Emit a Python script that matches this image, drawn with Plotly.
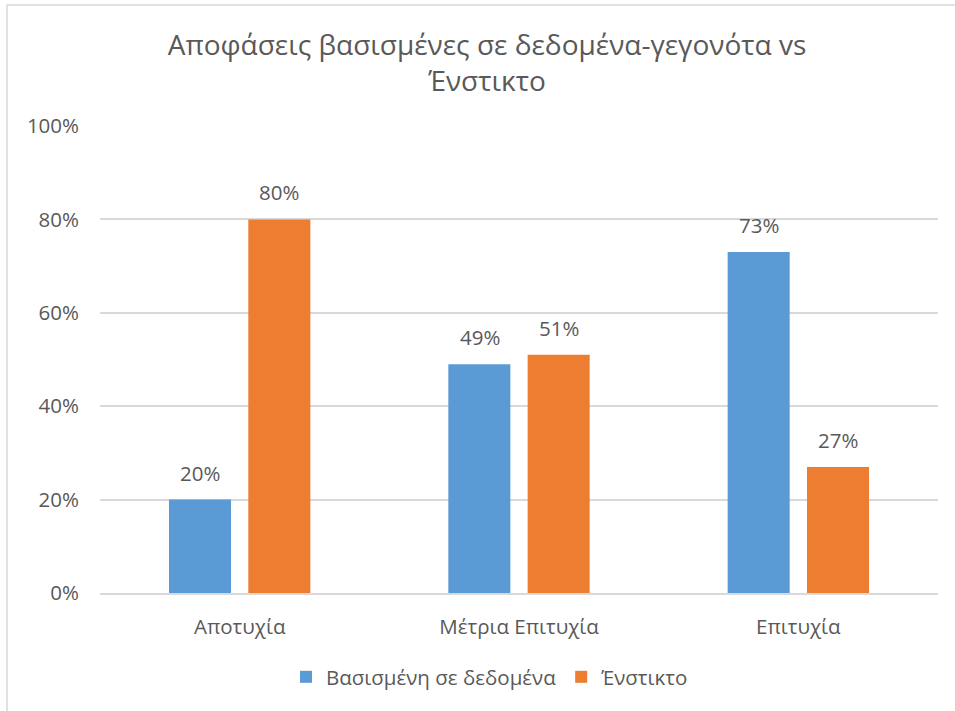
import plotly.graph_objects as go

categories = ["Αποτυχία", "Μέτρια Επιτυχία", "Επιτυχία"]
series_names = ["Βασισμένη σε δεδομένα", "Ένστικτο"]
data_based = [0.20, 0.49, 0.73]
instinct = [0.80, 0.51, 0.27]
colors = ["#5B9BD5", "#ED7D31"]
title_text = "Αποφάσεις βασισμένες σε δεδομένα-γεγονότα vs<br>Ένστικτο"

FONT = "Open Sans"
GREY = "#595959"

W, H = 955, 711
L, R, T, B = 100, 17, 126, 118
pw, ph = W - L - R, H - T - B

fig = go.Figure()
for name, vals, col in zip(series_names, [data_based, instinct], colors):
    fig.add_trace(go.Bar(x=categories, y=vals, name=name, marker_color=col,
                         marker_line_width=0, hoverinfo="skip"))

annos = []
for i, vals in enumerate([data_based, instinct]):
    shift = -39.5 if i == 0 else 39.5
    for c, v in zip(categories, vals):
        annos.append(dict(x=c, y=v, xshift=shift, yshift=27, yanchor="middle",
                          text=f"{round(v*100)}%", showarrow=False,
                          font=dict(family=FONT, size=20.5, color=GREY)))

def px_x(x):
    return (x - L) / pw

def px_y(y):
    return (H - B - y) / ph

fig.update_layout(
    width=W, height=H,
    margin=dict(l=L, r=R, t=T, b=B),
    paper_bgcolor="white", plot_bgcolor="white",
    font=dict(family=FONT, color=GREY, size=20),
    title=dict(text=title_text, x=487 / W, xref="container", xanchor="center",
               y=1 - 55 / H, yref="container", yanchor="middle",
               font=dict(family=FONT, size=28, color=GREY)),
    barmode="group", bargap=0.432, bargroupgap=0.218,
    showlegend=True,
    legend=dict(orientation="h", x=px_x(490), xanchor="center",
                y=px_y(677), yanchor="middle",
                font=dict(family=FONT, size=20.5, color=GREY),
                itemwidth=30, traceorder="normal"),
    annotations=annos,
    shapes=[dict(type="rect", xref="paper", yref="paper",
                 x0=px_x(7), x1=px_x(968), y0=px_y(725), y1=px_y(5),
                 line=dict(color="#D9D9D9", width=1.5), fillcolor="rgba(0,0,0,0)",
                 layer="below")],
)
fig.update_xaxes(showgrid=False, showline=True, linecolor="#D9D9D9", linewidth=1.5,
                 ticks="", ticklabelstandoff=15,
                 tickfont=dict(family=FONT, size=20.5, color=GREY))
fig.update_yaxes(range=[0, 1], dtick=0.2, tickformat=".0%", showgrid=True,
                 gridcolor="#D9D9D9", gridwidth=1.5, zeroline=False, showline=False,
                 ticks="", ticklabelstandoff=20,
                 tickfont=dict(family=FONT, size=20.5, color=GREY))

fig.write_html("out.html")
